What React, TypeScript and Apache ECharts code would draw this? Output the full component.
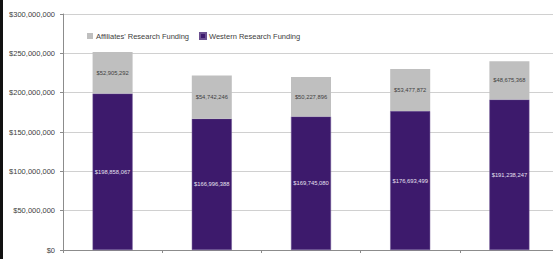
import React, { useEffect, useRef } from "react";
import * as echarts from "echarts";

const categories = ["2010-2011", "2011-2012", "2012-2013", "2013-2014", "2014-2015"];
const westernFunding = [198858067, 166996388, 169745080, 176693499, 191238247];
const affiliatesFunding = [52905292, 54742246, 50227896, 53477872, 48675368];
const seriesNames = ["Affiliates' Research Funding", "Western Research Funding"];

const fmt = (v: number) => "$" + Math.round(v).toLocaleString("en-US");

export default function App() {
  const ref = useRef<HTMLDivElement>(null);
  useEffect(() => {
    document.body.style.margin = "0";
    document.body.style.overflow = "hidden";
    document.body.style.background = "#ffffff";
    document.documentElement.style.overflow = "hidden";
    document.documentElement.style.background = "#ffffff";
    if (!ref.current) return;
    const chart = echarts.init(ref.current, null, { renderer: "svg", width: 553, height: 259 });
    const font = "'Liberation Sans', Arial, sans-serif";
    chart.setOption({
      animation: false,
      backgroundColor: "#ffffff",
      textStyle: { fontFamily: font },
      graphic: [
        { type: "rect", left: 0, top: 0, shape: { width: 3, height: 259 }, style: { fill: "#111111" } },
      ],
      legend: {
        data: seriesNames,
        left: 82,
        top: 27,
        itemWidth: 6,
        itemHeight: 6,
        itemGap: 10,
        icon: "rect",
        textStyle: { fontSize: 7.5, color: "#404040", fontFamily: font, padding: [0, 0, 0, -2] },
      },
      grid: { left: 63, top: 14, right: -6, bottom: 9, containLabel: false, outerBoundsMode: "none" },
      xAxis: {
        type: "category",
        data: categories,
        axisLine: { lineStyle: { color: "#8c8c8c", width: 1 } },
        axisTick: { show: true, alignWithLabel: false, length: 3, lineStyle: { color: "#8c8c8c" } },
        axisLabel: { fontSize: 7.5, color: "#595959", margin: 7, fontFamily: font },
      },
      yAxis: {
        type: "value",
        min: 0,
        max: 300000000,
        interval: 50000000,
        axisLine: { show: true, lineStyle: { color: "#8c8c8c", width: 1 } },
        axisTick: { show: true, length: 3, inside: false, lineStyle: { color: "#8c8c8c" } },
        splitLine: { lineStyle: { color: "#d0d0d0", width: 1 } },
        axisLabel: { fontSize: 7.5, color: "#404040", margin: 8, fontFamily: font, formatter: (v: number) => fmt(v) },
      },
      series: [
        {
          name: seriesNames[1],
          type: "bar",
          stack: "total",
          barWidth: 40,
          data: westernFunding,
          itemStyle: { color: "#3d1a6c", borderColor: "#6b5090", borderWidth: 0.5 },
          label: {
            show: true,
            position: "inside",
            formatter: (p: any) => fmt(p.value),
            fontSize: 5.8,
            color: "#e6e0f0",
            fontFamily: font,
          },
        },
        {
          name: seriesNames[0],
          type: "bar",
          stack: "total",
          barWidth: 40,
          data: affiliatesFunding,
          itemStyle: { color: "#bfbfbf" },
          label: {
            show: true,
            position: "inside",
            formatter: (p: any) => fmt(p.value),
            fontSize: 5.8,
            color: "#404040",
            fontFamily: font,
          },
        },
      ],
    });
    return () => chart.dispose();
  }, []);
  return (
    <div style={{ position: "fixed", left: 0, top: 0, width: "100vw", height: "100vh", overflow: "hidden", background: "#fff" }}>
      <div ref={ref} style={{ width: 553, height: 259 }} />
    </div>
  );
}
